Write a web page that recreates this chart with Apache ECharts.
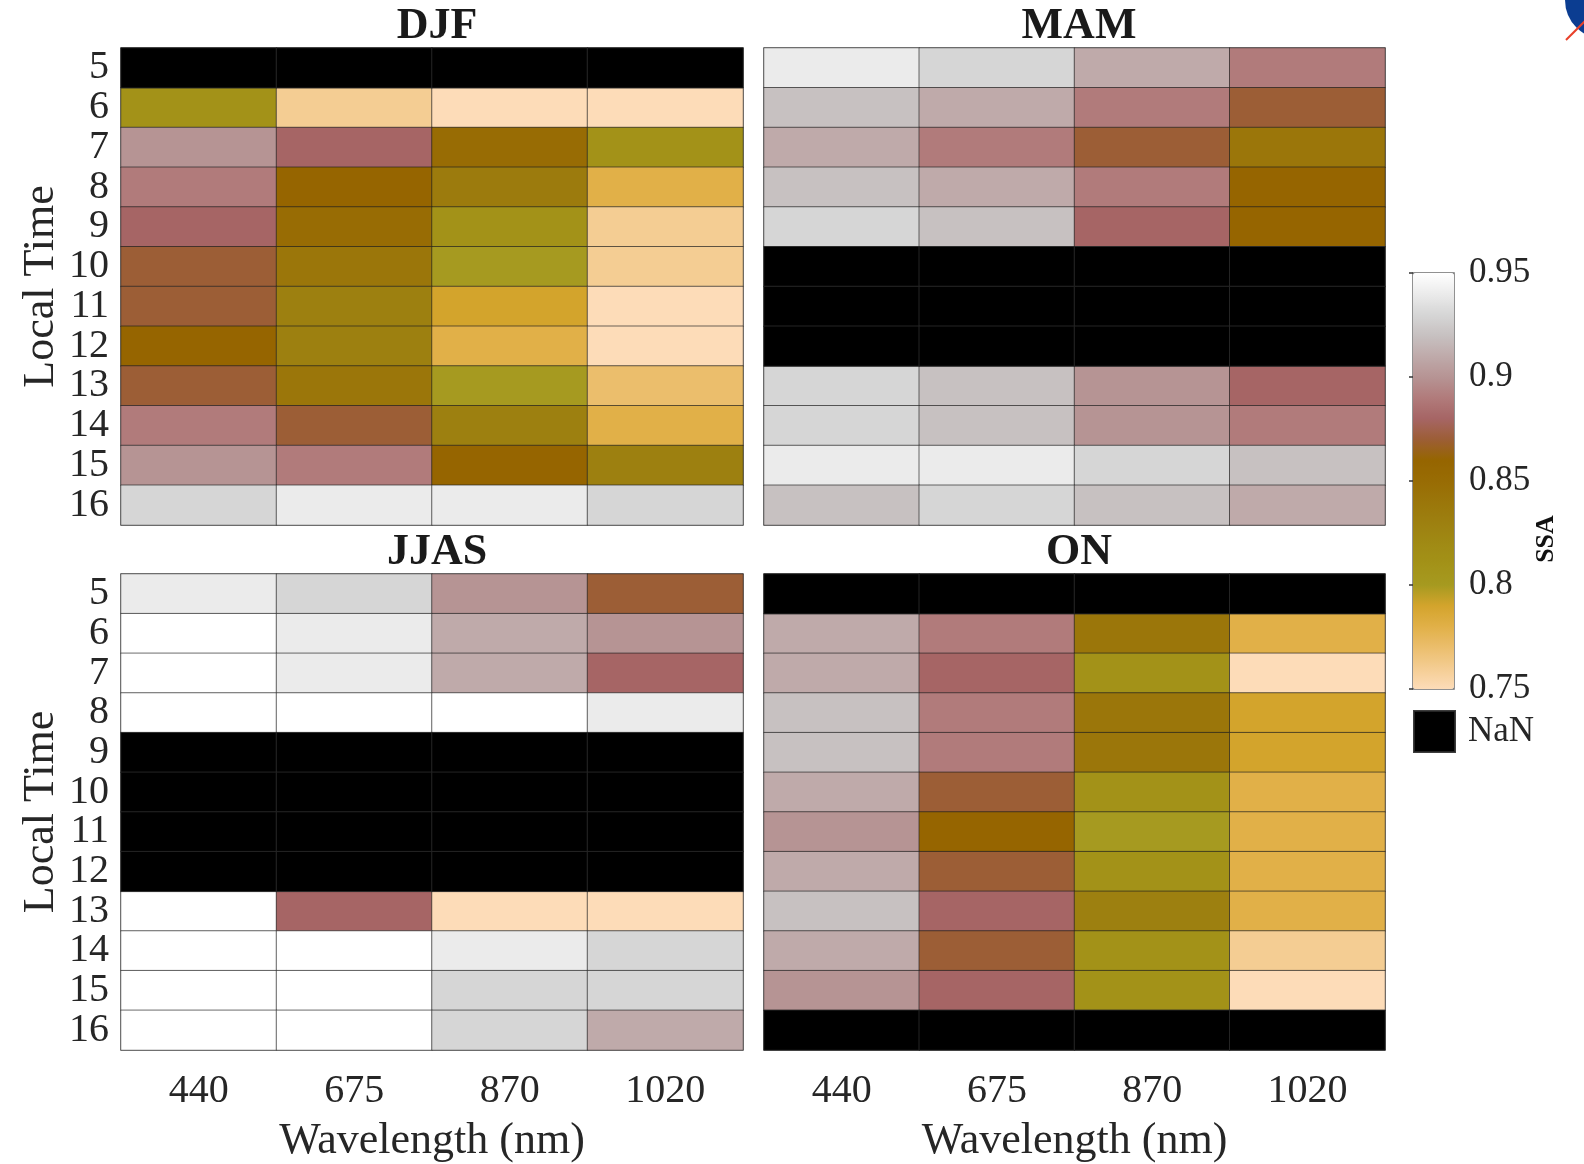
<!DOCTYPE html>
<html>
<head>
<meta charset="utf-8">
<script src="https://cdn.jsdelivr.net/npm/echarts@6/dist/echarts.min.js"></script>
<style>
html,body{margin:0;padding:0;background:#fff;}
#chart{width:1584px;height:1164px;}
</style>
</head>
<body>
<div id="chart"></div>
<script>
// Categories
const wavelengths = ['440', '675', '870', '1020'];
const hours = ['5', '6', '7', '8', '9', '10', '11', '12', '13', '14', '15', '16'];
const panelTitles = ['DJF', 'MAM', 'JJAS', 'ON'];
const colorbarTicks = [0.75, 0.8, 0.85, 0.9, 0.95];

// SSA values, rows = local time 5..16, columns = 440, 675, 870, 1020 nm (null = NaN)
const ssaDJF = [
  [null, null, null, null],
  [0.81, 0.76, 0.75, 0.75],
  [0.90, 0.88, 0.85, 0.81],
  [0.89, 0.86, 0.835, 0.78],
  [0.88, 0.85, 0.81, 0.76],
  [0.87, 0.84, 0.80, 0.76],
  [0.87, 0.83, 0.79, 0.75],
  [0.86, 0.83, 0.78, 0.75],
  [0.87, 0.84, 0.80, 0.77],
  [0.89, 0.87, 0.83, 0.78],
  [0.90, 0.89, 0.86, 0.83],
  [0.93, 0.94, 0.94, 0.93]
];
const ssaMAM = [
  [0.94, 0.93, 0.91, 0.89],
  [0.92, 0.91, 0.89, 0.87],
  [0.91, 0.89, 0.87, 0.84],
  [0.92, 0.91, 0.89, 0.86],
  [0.93, 0.92, 0.88, 0.86],
  [null, null, null, null],
  [null, null, null, null],
  [null, null, null, null],
  [0.93, 0.92, 0.90, 0.88],
  [0.93, 0.92, 0.90, 0.89],
  [0.94, 0.94, 0.93, 0.92],
  [0.92, 0.93, 0.92, 0.91]
];
const ssaJJAS = [
  [0.94, 0.93, 0.90, 0.87],
  [0.95, 0.94, 0.91, 0.90],
  [0.95, 0.94, 0.91, 0.88],
  [0.95, 0.95, 0.95, 0.94],
  [null, null, null, null],
  [null, null, null, null],
  [null, null, null, null],
  [null, null, null, null],
  [0.95, 0.88, 0.75, 0.75],
  [0.95, 0.95, 0.94, 0.93],
  [0.95, 0.95, 0.93, 0.93],
  [0.95, 0.95, 0.93, 0.91]
];
const ssaON = [
  [null, null, null, null],
  [0.91, 0.89, 0.84, 0.78],
  [0.91, 0.88, 0.81, 0.75],
  [0.92, 0.89, 0.84, 0.79],
  [0.92, 0.89, 0.84, 0.79],
  [0.91, 0.87, 0.81, 0.78],
  [0.90, 0.86, 0.80, 0.78],
  [0.91, 0.87, 0.81, 0.78],
  [0.92, 0.88, 0.83, 0.78],
  [0.91, 0.87, 0.81, 0.76],
  [0.90, 0.88, 0.81, 0.75],
  [null, null, null, null]
];

const panels = [ssaDJF, ssaMAM, ssaJJAS, ssaON];

const cmap = ['#fddcb8', '#f4cd93', '#ebbe6c', '#e1b048', '#d3a42c', '#a69a20', '#a39218',
  '#a08a14', '#9d8010', '#9b760a', '#986c04', '#966500', '#9c5e36', '#a66565', '#b17b7b',
  '#b69494', '#bfaaaa', '#c7c1c1', '#d6d6d6', '#ebebeb', '#ffffff'];

const FONT = '"Liberation Serif", "Times New Roman", serif';
const TXT = '#262626';

const gridPos = [
  { left: 121, top: 48, width: 622, height: 477 },
  { left: 764, top: 48, width: 621, height: 477 },
  { left: 121, top: 574, width: 622, height: 477 },
  { left: 764, top: 574, width: 621, height: 477 }
];
const titleCenters = [[432, 0], [1074, 0], [432, 526], [1074, 526]];

const grids = [], xAxes = [], yAxes = [], series = [], titles = [];
panels.forEach((p, i) => {
  grids.push(Object.assign({ show: true, borderColor: '#8c8c8c', borderWidth: 1.5, backgroundColor: 'transparent' }, gridPos[i]));
  const bottomRow = i >= 2, leftCol = i % 2 === 0;
  xAxes.push({
    type: 'category', gridIndex: i, data: wavelengths,
    axisLine: { show: false }, axisTick: { show: false }, splitLine: { show: false },
    axisLabel: { show: bottomRow, interval: 0, fontFamily: FONT, fontSize: 40, color: TXT, margin: 18, padding: [3, 0, 0, 0] },
    name: bottomRow ? 'Wavelength (nm)' : '', nameLocation: 'middle', nameGap: 69,
    nameTextStyle: { fontFamily: FONT, fontSize: 44, color: TXT }
  });
  yAxes.push({
    type: 'category', gridIndex: i, data: hours, inverse: true,
    axisLine: { show: false }, axisTick: { show: false }, splitLine: { show: false },
    axisLabel: { show: leftCol, interval: 0, fontFamily: FONT, fontSize: 40, color: TXT, margin: 12, padding: [7, 0, 0, 0] },
    name: leftCol ? 'Local Time' : '', nameLocation: 'middle', nameGap: 58, nameRotate: 90,
    nameTextStyle: { fontFamily: FONT, fontSize: 44, color: TXT }
  });
  const vals = [], nans = [];
  p.forEach((row, r) => row.forEach((v, c) => {
    if (v === null) nans.push([c, r, 0]); else vals.push([c, r, v]);
  }));
  series.push({
    type: 'heatmap', name: panelTitles[i], xAxisIndex: i, yAxisIndex: i, data: vals,
    itemStyle: { borderColor: 'rgba(30,30,30,0.65)', borderWidth: 1 },
    emphasis: { disabled: true }, silent: true
  });
  series.push({
    type: 'heatmap', name: 'NaN', xAxisIndex: i, yAxisIndex: i, data: nans,
    itemStyle: { color: '#000000', borderColor: 'rgba(40,40,40,0.9)', borderWidth: 1 },
    emphasis: { disabled: true }, silent: true
  });
  titles.push({
    text: panelTitles[i], left: titleCenters[i][0], top: titleCenters[i][1], textAlign: 'center',
    textStyle: { fontFamily: FONT, fontSize: 44, fontWeight: 'bold', color: '#1a1a1a' }
  });
});

// colorbar axis grid
grids.push({ left: 1413, top: 273, width: 41, height: 416, show: true, borderColor: '#6e6e6e', borderWidth: 1.5, backgroundColor: 'transparent' });
xAxes.push({ type: 'value', gridIndex: 4, show: false, min: 0, max: 1 });
yAxes.push({
  type: 'value', gridIndex: 4, position: 'right', min: colorbarTicks[0], max: colorbarTicks[colorbarTicks.length - 1], interval: 0.05,
  axisLine: { show: false }, splitLine: { show: false },
  axisTick: { show: true, inside: true, length: 4, lineStyle: { color: '#333', width: 1.5 } },
  axisLabel: { fontFamily: FONT, fontSize: 35, color: TXT, margin: 15, padding: [7, 0, 0, 0], formatter: v => String(+v.toFixed(2)) }
});

const option = {
  backgroundColor: '#ffffff',
  animation: false,
  title: titles,
  grid: grids,
  xAxis: xAxes,
  yAxis: yAxes,
  visualMap: {
    type: 'continuous', min: 0.75, max: 0.95, seriesIndex: [0, 2, 4, 6],
    calculable: false, hoverLink: false, orient: 'vertical',
    left: 1413, top: 273, itemWidth: 41, itemHeight: 416, padding: 0,
    inRange: { color: cmap }
  },
  legend: {
    data: [{ name: 'NaN', icon: 'rect', itemStyle: { color: '#000' } }],
    left: 1413, top: 710, itemWidth: 41, itemHeight: 41, padding: 0, selectedMode: false,
    textStyle: { fontFamily: FONT, fontSize: 35, color: TXT, padding: [4, 0, 0, 8] }
  },
  graphic: [
    { type: 'text', x: 1546, y: 539, rotation: Math.PI / 2, silent: true,
      style: { text: 'SSA', fontFamily: FONT, fontSize: 26, fontWeight: 'bold', fill: '#111', align: 'center', verticalAlign: 'middle' } },
    { type: 'circle', shape: { cx: 1604, cy: 0, r: 39 }, style: { fill: '#0b3d91' }, silent: true },
    { type: 'line', shape: { x1: 1566, y1: 40, x2: 1592, y2: 14 }, style: { stroke: '#e8402a', lineWidth: 2 }, silent: true }
  ],
  series: series
};

const chart = echarts.init(document.getElementById('chart'));
chart.setOption(option);
</script>
</body>
</html>
